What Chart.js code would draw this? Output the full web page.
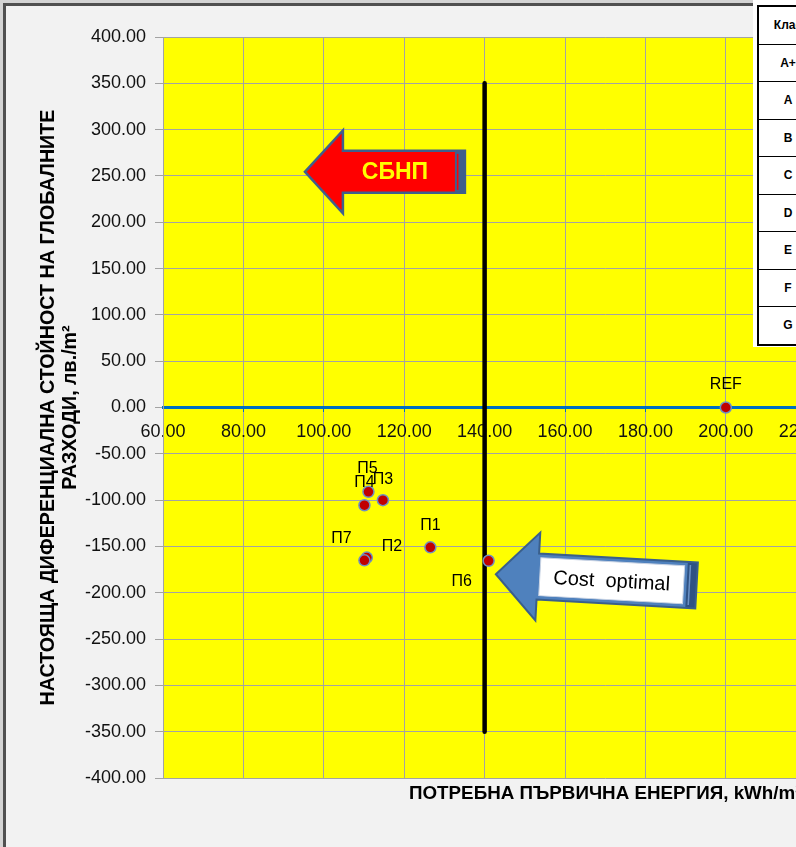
<!DOCTYPE html>
<html>
<head>
<meta charset="utf-8">
<script src="https://cdn.jsdelivr.net/npm/chart.js@4.4.1/dist/chart.umd.min.js"></script>
<style>
  html, body { margin: 0; padding: 0; width: 796px; height: 847px; overflow: hidden; background: #d4d4d4; }
  #frame { position: absolute; left: 3px; top: 3px; width: 1200px; height: 1200px;
           border-left: 3px solid #505050; border-top: 3px solid #505050; background: #f2f2f2; }
  #wrap { position: absolute; left: 0; top: 0; width: 1086px; height: 847px; }
  #classes { position: absolute; left: 753px; top: 0; width: 80px; height: 347px; background: #fff; z-index: 2; }
  #classes table { position: absolute; left: 4px; top: 5px; width: 62px; border-collapse: collapse; border: 2px solid #000; }
  #classes td { border: 1px solid #000; height: 36.5px; padding: 0; text-align: center;
                font: bold 12px "Liberation Sans", Arial, sans-serif; color: #000; }
</style>
</head>
<body>
<div id="frame"></div>
<div id="wrap"><canvas id="chart" width="1086" height="847"></canvas></div>
<div id="classes"><table id="classTable"></table></div>
<script>
// ---- data ----
const pointNames   = ['REF', 'П1', 'П2', 'П3', 'П4', 'П5', 'П6', 'П7'];
const energyValues = [200, 126.5, 110.7, 114.7, 110.1, 111.1, 141.0, 110.1];   // kWh/m²
const costValues   = [0, -151, -162, -100, -105.5, -91, -165.5, -165];          // лв./m²
const limitLineX   = [140, 140];
const limitLineY   = [350, -350];
const xTickValues  = [60, 80, 100, 120, 140, 160, 180, 200, 220, 240, 260, 280];
const yTickValues  = [-400, -350, -300, -250, -200, -150, -100, -50, 0, 50, 100, 150, 200, 250, 300, 350, 400];
const energyClasses = ['A+', 'A', 'B', 'C', 'D', 'E', 'F', 'G'];
const classHeader  = 'Клас';
const xTitle = 'ПОТРЕБНА ПЪРВИЧНА ЕНЕРГИЯ, kWh/m²';
const yTitleLines = ['НАСТОЯЩА ДИФЕРЕНЦИАЛНА СТОЙНОСТ НА ГЛОБАЛНИТЕ', 'РАЗХОДИ, лв./m²'];

// ---- class table ----
const tbl = document.getElementById('classTable');
[classHeader].concat(energyClasses).forEach(c => {
  const tr = document.createElement('tr');
  const td = document.createElement('td');
  td.textContent = c;
  tr.appendChild(td);
  tbl.appendChild(tr);
});

const FONT = '"Liberation Sans", Arial, sans-serif';
const GRID = '#a3a3a3';

// yellow plot area
const plotBackground = {
  id: 'plotBackground',
  beforeDraw(chart) {
    const { ctx, chartArea: a } = chart;
    ctx.save();
    ctx.fillStyle = '#ffff00';
    ctx.fillRect(a.left, a.top, a.right - a.left, a.bottom - a.top);
    ctx.restore();
  }
};

// names next to the points
const pointLabels = {
  id: 'pointLabels',
  afterDatasetsDraw(chart, args, opts) {
    const ctx = chart.ctx;
    const meta = chart.getDatasetMeta(0);
    ctx.save();
    ctx.font = '16px ' + FONT;
    ctx.fillStyle = '#000';
    ctx.textAlign = 'center';
    ctx.textBaseline = 'middle';
    meta.data.forEach((pt, i) => {
      const name = pointNames[i];
      const off = opts.offsets[name] || [0, -22];
      ctx.fillText(name, pt.x + off[0], pt.y + off[1]);
    });
    ctx.restore();
  }
};

function arrowPath(ctx, s) {
  ctx.beginPath();
  ctx.moveTo(0, 0);
  ctx.lineTo(s.hl, -s.H / 2);
  ctx.lineTo(s.hl, -s.h / 2);
  ctx.lineTo(s.L, -s.h / 2);
  ctx.lineTo(s.L, s.h / 2);
  ctx.lineTo(s.hl, s.h / 2);
  ctx.lineTo(s.hl, s.H / 2);
  ctx.closePath();
}

function drawArrow(ctx, x, y, s) {
  ctx.save();
  ctx.translate(x, y);
  ctx.rotate(s.angle * Math.PI / 180);
  arrowPath(ctx, s);
  ctx.fillStyle = s.fill;
  ctx.fill();
  // bevelled tail
  ctx.fillStyle = s.strip;
  ctx.fillRect(s.L - 10, -s.h / 2, 10, s.h);
  ctx.fillStyle = s.stripLine;
  ctx.fillRect(s.L - 8, -s.h / 2 + 3, 1.5, s.h - 6);
  arrowPath(ctx, s);
  ctx.lineJoin = 'miter';
  ctx.lineWidth = s.lw;
  ctx.strokeStyle = s.stroke;
  ctx.stroke();
  if (s.box) {
    ctx.fillStyle = '#ffffff';
    ctx.fillRect(s.box[0], s.box[1], s.box[2], s.box[3]);
    ctx.lineWidth = 1;
    ctx.strokeStyle = '#c9d3e3';
    ctx.strokeRect(s.box[0], s.box[1], s.box[2], s.box[3]);
  }
  ctx.font = s.font;
  ctx.fillStyle = s.color;
  ctx.textAlign = 'center';
  ctx.textBaseline = 'middle';
  ctx.fillText(s.text, s.textX, 1);
  ctx.restore();
}

// callout arrows and axis titles
const annotations = {
  id: 'annotations',
  afterDraw(chart) {
    const { ctx, chartArea: a, scales } = chart;
    drawArrow(ctx, scales.x.getPixelForValue(95.3), scales.y.getPixelForValue(254.4), {
      angle: 0, L: 160, hl: 38, H: 83, h: 42, lw: 2.5,
      fill: '#ff0000', stroke: '#3f5f8c', strip: '#3f5f8c', stripLine: '#ff0000',
      text: 'СБНП', textX: 90, font: 'bold 23px ' + FONT, color: '#ffff00'
    });
    drawArrow(ctx, scales.x.getPixelForValue(142.8), scales.y.getPixelForValue(-180), {
      angle: 3.2, L: 201, hl: 42, H: 88, h: 46, lw: 2,
      fill: '#4f81bd', stroke: '#3a5f8b', strip: '#2f5283', stripLine: '#6d93c6',
      box: [44, -19, 144, 38],
      text: 'Cost  optimal', textX: 116, font: '20px ' + FONT, color: '#000'
    });

    ctx.save();
    ctx.fillStyle = '#000';
    ctx.font = 'bold 18.8px ' + FONT;
    ctx.textAlign = 'center';
    ctx.textBaseline = 'middle';
    ctx.fillText(xTitle, (a.left + a.right) / 2, 794);
    ctx.font = 'bold 19.7px ' + FONT;
    ctx.translate(0, (a.top + a.bottom) / 2);
    ctx.rotate(-Math.PI / 2);
    ctx.fillText(yTitleLines[0], 0, 49);
    ctx.fillText(yTitleLines[1], 0, 71);
    ctx.restore();
  }
};

new Chart(document.getElementById('chart'), {
  type: 'scatter',
  data: {
    datasets: [
      {
        data: energyValues.map((x, i) => ({ x, y: costValues[i] })),
        pointRadius: 5.5,
        pointBackgroundColor: '#c00000',
        pointBorderColor: '#6f8fc2',
        pointBorderWidth: 1.5
      },
      {
        data: limitLineX.map((x, i) => ({ x, y: limitLineY[i] })),
        showLine: true,
        borderColor: '#000',
        borderWidth: 4.5,
        borderCapStyle: 'round',
        pointRadius: 0
      }
    ]
  },
  options: {
    responsive: false,
    animation: false,
    devicePixelRatio: 1,
    layout: { padding: { left: 0, top: 37, right: 14, bottom: 69 } },
    plugins: {
      legend: { display: false },
      tooltip: { enabled: false },
      pointLabels: {
        offsets: {
          'REF': [0, -23], 'П1': [0, -22], 'П2': [25, -11], 'П3': [0, -21],
          'П4': [0, -23], 'П5': [-1, -23], 'П6': [-27, 21], 'П7': [-23, -22]
        }
      }
    },
    scales: {
      x: {
        type: 'linear',
        position: { y: 0 },
        min: 60, max: 280,
        afterBuildTicks(scale) { scale.ticks = xTickValues.map(v => ({ value: v })); },
        ticks: {
          callback: v => Number(v).toFixed(2),
          font: { family: FONT, size: 18 },
          color: '#111',
          padding: 11,
          maxRotation: 0,
          autoSkip: false
        },
        grid: { color: GRID, lineWidth: 1, tickLength: 3, tickColor: '#0070c0' },
        border: { display: true, color: '#0070c0', width: 3 }
      },
      y: {
        type: 'linear',
        min: -400, max: 400,
        afterBuildTicks(scale) { scale.ticks = yTickValues.map(v => ({ value: v })); },
        afterFit(scale) { scale.width = 163; },
        ticks: {
          callback: v => Number(v).toFixed(2),
          font: { family: FONT, size: 18 },
          color: '#111',
          padding: 9,
          autoSkip: false
        },
        grid: { color: GRID, lineWidth: 1, tickLength: 8, tickColor: GRID },
        border: { display: true, color: GRID, width: 1 }
      }
    }
  },
  plugins: [plotBackground, pointLabels, annotations]
});
</script>
</body>
</html>
